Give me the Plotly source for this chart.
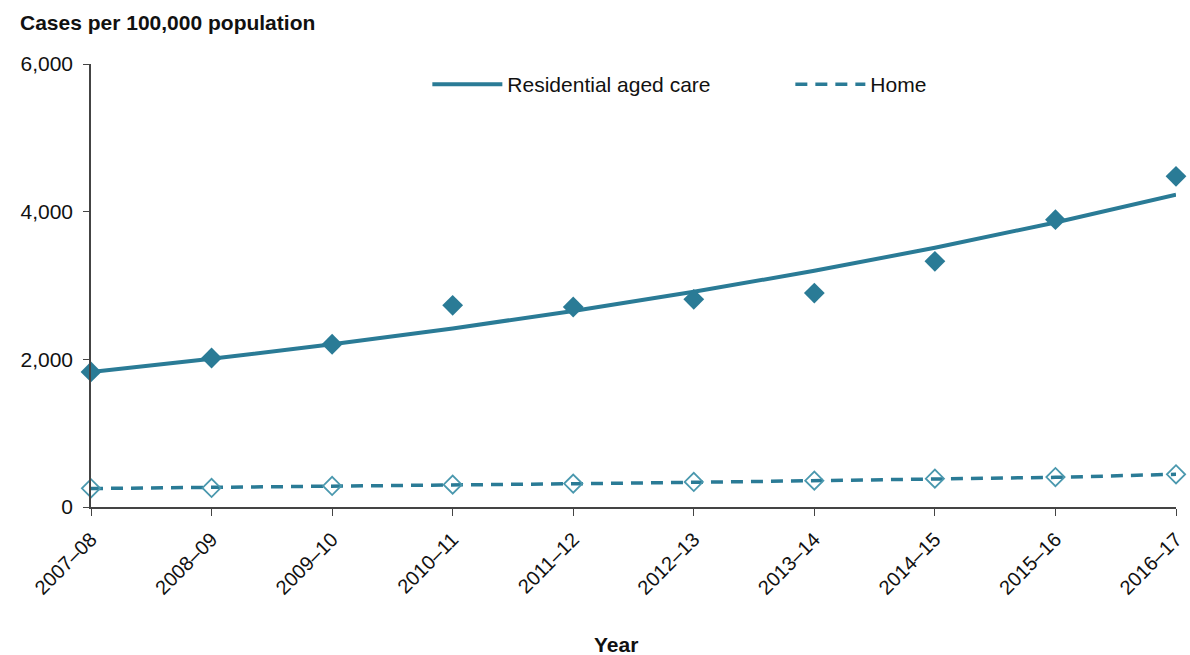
import plotly.graph_objects as go

years = ["2007–08", "2008–09", "2009–10", "2010–11", "2011–12",
         "2012–13", "2013–14", "2014–15", "2015–16", "2016–17"]
residential = [1829, 2018, 2204, 2732, 2709, 2813, 2898, 3328, 3892, 4479]
residential_trend = [1829, 2008, 2204, 2419, 2655, 2914, 3199, 3511, 3854, 4230]
home = [253, 258, 285, 303, 317, 339, 357, 384, 406, 443]
home_trend = [250, 264, 280, 297, 315, 334, 355, 377, 402, 443]
y_ticks = [0, 2000, 4000, 6000]
y_tick_text = ["0", "2,000", "4,000", "6,000"]

dark = "#2A7B96"
light = "#4A98AE"
font = "Liberation Sans, Arial, sans-serif"

fig = go.Figure()
fig.add_trace(go.Scatter(x=years, y=residential_trend, mode="lines",
                         name="Residential aged care",
                         line=dict(color=dark, width=4), cliponaxis=False))
fig.add_trace(go.Scatter(x=years, y=home_trend, mode="lines", name="Home",
                         line=dict(color=dark, width=3.5, dash="12px,8px"),
                         cliponaxis=False))
fig.add_trace(go.Scatter(x=years, y=residential, mode="markers", showlegend=False,
                         marker=dict(symbol="diamond", size=16, color=dark),
                         cliponaxis=False))
fig.add_trace(go.Scatter(x=years, y=home, mode="markers", showlegend=False,
                         marker=dict(symbol="diamond-open", size=14, color=light,
                                     line=dict(color=light, width=1.8)),
                         cliponaxis=False))

fig.update_layout(
    width=1190, height=655,
    margin=dict(l=91, r=14, t=64, b=148, autoexpand=False),
    paper_bgcolor="white", plot_bgcolor="white",
    font=dict(family=font, size=21, color="#111"),
    showlegend=True,
    legend=dict(orientation="h", x=0.31, y=1.0, xanchor="left", yanchor="top",
                font=dict(size=21), entrywidth=278, entrywidthmode="pixels",
                bgcolor="rgba(0,0,0,0)", itemwidth=70),
    xaxis=dict(type="category", range=[0, 9], showgrid=False, showline=True,
               linecolor="#444", linewidth=1.5, ticks="outside", ticklen=7,
               tickcolor="#444", tickangle=-45, tickfont=dict(size=20),
               ticklabelstandoff=4, zeroline=False, automargin=False),
    yaxis=dict(range=[0, 6000], tickvals=y_ticks, ticktext=y_tick_text,
               showgrid=False, showline=True, linecolor="#444", linewidth=1.5,
               ticks="outside", ticklen=6, tickcolor="#444", zeroline=False,
               ticklabelstandoff=6, tickfont=dict(size=21), automargin=False),
    annotations=[
        dict(text="<b>Cases per 100,000 population</b>", xref="paper",
             yref="paper", x=-0.0673, y=1.0, yshift=42, xanchor="left",
             yanchor="middle", showarrow=False, font=dict(size=21)),
        dict(text="<b>Year</b>", xref="paper", yref="paper", x=0.484, y=0.0,
             yshift=-137, xanchor="center", yanchor="middle", showarrow=False,
             font=dict(size=21)),
    ],
)

fig.write_html("out.html", config={"displayModeBar": False},
               post_script="document.body.style.margin='0';document.body.style.overflow='hidden';")
